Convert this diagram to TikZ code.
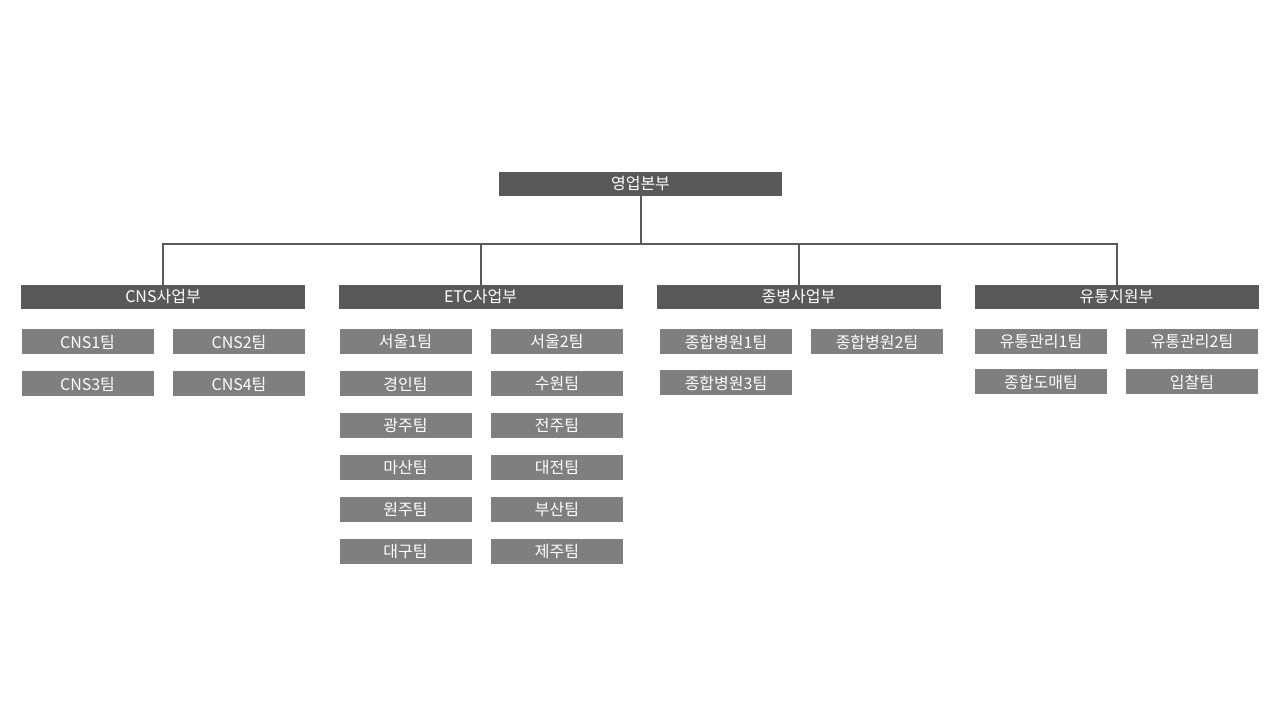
\documentclass[tikz,border=0pt]{standalone}
\usepackage{fontspec}
\setmainfont{Noto Sans CJK KR}
\usepackage{xcolor}
\definecolor{headgray}{HTML}{595959}
\definecolor{teamgray}{HTML}{7F7F7F}
\tikzset{
  headbox/.style={fill=headgray, text=white, minimum width=284pt, minimum height=24pt, inner sep=0pt, font=\fontsize{16}{19}\selectfont},
  teambox/.style={fill=teamgray, text=white, minimum width=132pt, minimum height=25pt, inner sep=0pt, font=\fontsize{16}{19}\selectfont},
  link/.style={draw=headgray, line width=2pt}
}
\begin{document}
\begin{tikzpicture}[x=1pt,y=1pt]
  \useasboundingbox (0,0) rectangle (1280,720);
  % top and divisions
  \node[headbox, minimum width=283pt] (top) at (640.5,536) {영업본부};
  \node[headbox] (cns) at (163,423) {CNS사업부};
  \node[headbox] (etc) at (480.5,423) {ETC사업부};
  \node[headbox] (jong) at (798.5,423) {종병사업부};
  \node[headbox] (yutong) at (1116.5,423) {유통지원부};

  % connectors
  \coordinate (bus) at (0,476);
  \draw[link] (top.south) -- (top.south |- bus);
  \draw[link] (cns.north) -- (cns.north |- bus) -- (yutong.north |- bus) -- (yutong.north);
  \draw[link] (etc.north) -- (etc.north |- bus);
  \draw[link] (jong.north) -- (jong.north |- bus);

  % CNS teams
  \node[teambox] (cns1) at (87.5,378) {CNS1팀};
  \node[teambox] (cns2) at (239,378) {CNS2팀};
  \node[teambox] (cns3) at (87.5,336) {CNS3팀};
  \node[teambox] (cns4) at (239,336) {CNS4팀};

  % ETC teams
  \node[teambox] (seoul1) at (405.5,378) {서울1팀};
  \node[teambox] (seoul2) at (557,378) {서울2팀};
  \node[teambox] (gyeongin) at (405.5,336) {경인팀};
  \node[teambox] (suwon) at (557,336) {수원팀};
  \node[teambox] (gwangju) at (405.5,294) {광주팀};
  \node[teambox] (jeonju) at (557,294) {전주팀};
  \node[teambox] (masan) at (405.5,252) {마산팀};
  \node[teambox] (daejeon) at (557,252) {대전팀};
  \node[teambox] (wonju) at (405.5,210) {원주팀};
  \node[teambox] (busan) at (557,210) {부산팀};
  \node[teambox] (daegu) at (405.5,168) {대구팀};
  \node[teambox] (jeju) at (557,168) {제주팀};

  % hospital teams
  \node[teambox] (hosp1) at (726,378) {종합병원1팀};
  \node[teambox] (hosp2) at (877,378) {종합병원2팀};
  \node[teambox] (hosp3) at (726,337) {종합병원3팀};

  % distribution teams
  \node[teambox] (dist1) at (1041,378.5) {유통관리1팀};
  \node[teambox] (dist2) at (1192,378.5) {유통관리2팀};
  \node[teambox] (whole) at (1041,338) {종합도매팀};
  \node[teambox] (bid) at (1192,338) {입찰팀};
\end{tikzpicture}
\end{document}
